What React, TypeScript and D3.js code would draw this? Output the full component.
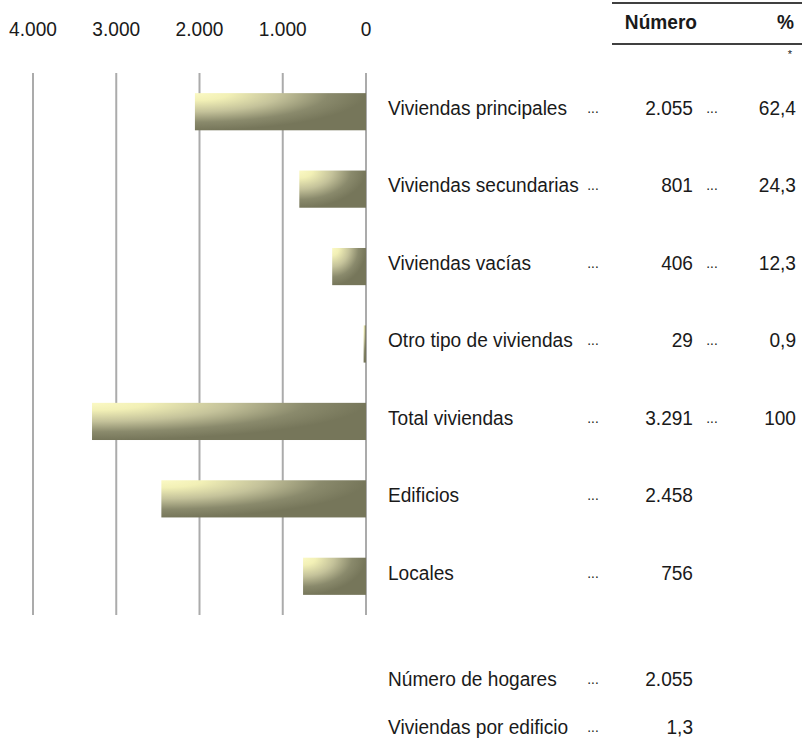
import * as d3 from 'd3';
import type { ReactNode } from 'react';

const categories = [
  'Viviendas principales',
  'Viviendas secundarias',
  'Viviendas vacías',
  'Otro tipo de viviendas',
  'Total viviendas',
  'Edificios',
  'Locales',
];
const numbers = [2055, 801, 406, 29, 3291, 2458, 756];
const percents: (number | null)[] = [62.4, 24.3, 12.3, 0.9, 100, null, null];
const tickValues = [4000, 3000, 2000, 1000, 0];

const extraLabels = ['Número de hogares', 'Viviendas por edificio'];
const extraValues = [2055, 1.3];

const W = 802;
const H = 751;
const FONT = "'Liberation Sans', Arial, sans-serif";
const GRID = '#ababab';
const TEXT = '#1a1a1a';
// the reference uses a narrow face; squeeze the installed one horizontally
const SQUEEZE = 0.91;

const es = d3.formatLocale({ decimal: ',', thousands: '.', grouping: [3], currency: ['', ' €'] });
const fmtInt = es.format(',');
const fmtDec = es.format(',.1f');
const fmtPct = (v: number) => (v === 100 ? '100' : fmtDec(v));

function T({
  x,
  y,
  anchor = 'start',
  size = 21,
  weight = 'normal',
  children,
}: {
  x: number;
  y: number;
  anchor?: 'start' | 'middle' | 'end';
  size?: number;
  weight?: string;
  children: ReactNode;
}) {
  return (
    <text
      transform={`translate(${x},${y}) scale(${SQUEEZE},1)`}
      textAnchor={anchor}
      dominantBaseline="central"
      fontSize={size}
      fontWeight={weight}
      fill={TEXT}
    >
      {children}
    </text>
  );
}

export default function App() {
  const x = d3.scaleLinear().domain([0, 4000]).range([366, 33]);
  const y = d3
    .scaleBand<string>()
    .domain(categories)
    .range([73, 615])
    .paddingInner(0.52)
    .paddingOuter(0.26);

  const labelX = 388;
  const dots1X = 593;
  const numX = 693;
  const dots2X = 712;
  const pctX = 796;

  return (
    <svg
      width={W}
      height={H}
      style={{ position: 'absolute', left: 0, top: 0, fontFamily: FONT }}
    >
      <defs>
        <radialGradient id="barFill" cx="0" cy="0" r="1" fx="0" fy="0">
          <stop offset="0" stopColor="#fbf9c4" />
          <stop offset="0.2" stopColor="#f2f0b6" />
          <stop offset="0.5" stopColor="#c4c29a" />
          <stop offset="0.78" stopColor="#8a8a6c" />
          <stop offset="1" stopColor="#76765a" />
        </radialGradient>
      </defs>

      {/* grid lines + top tick labels */}
      {tickValues.map((t) => (
        <g key={t}>
          <line
            x1={x(t)}
            x2={x(t)}
            y1={y.range()[0]}
            y2={y.range()[1]}
            stroke={GRID}
            strokeWidth={2}
          />
          <T x={x(t)} y={29} anchor="middle">
            {fmtInt(t)}
          </T>
        </g>
      ))}

      {/* bars */}
      {categories.map((c, i) => (
        <rect
          key={c}
          x={x(numbers[i])}
          y={y(c)}
          width={x(0) - x(numbers[i])}
          height={y.bandwidth()}
          fill="url(#barFill)"
        />
      ))}

      {/* header */}
      <line x1={612} x2={W} y1={3} y2={3} stroke="#000" strokeWidth={1.5} />
      <line x1={612} x2={W} y1={44} y2={44} stroke="#000" strokeWidth={1.5} />
      <T x={numX + 4} y={22} anchor="end" weight="bold">
        Número
      </T>
      <T x={pctX - 2} y={22} anchor="end" weight="bold">
        %
      </T>
      <text x={790} y={58} textAnchor="middle" fontSize={11} fill={TEXT}>
        *
      </text>

      {/* row labels and values */}
      {categories.map((c, i) => {
        const cy = (y(c) ?? 0) + y.bandwidth() / 2 - 4;
        const p = percents[i];
        return (
          <g key={c}>
            <T x={labelX} y={cy}>{c}</T>
            <T x={dots1X} y={cy} anchor="middle" size={15}>...</T>
            <T x={numX} y={cy} anchor="end">{fmtInt(numbers[i])}</T>
            {p != null && (
              <>
                <T x={dots2X} y={cy} anchor="middle" size={15}>...</T>
                <T x={pctX} y={cy} anchor="end">{fmtPct(p)}</T>
              </>
            )}
          </g>
        );
      })}

      {/* bottom summary */}
      {extraLabels.map((l, i) => {
        const cy = 679 + i * 48;
        const v = extraValues[i];
        return (
          <g key={l}>
            <T x={labelX} y={cy}>{l}</T>
            <T x={dots1X} y={cy} anchor="middle" size={15}>...</T>
            <T x={numX} y={cy} anchor="end">
              {Number.isInteger(v) ? fmtInt(v) : fmtDec(v)}
            </T>
          </g>
        );
      })}
    </svg>
  );
}
